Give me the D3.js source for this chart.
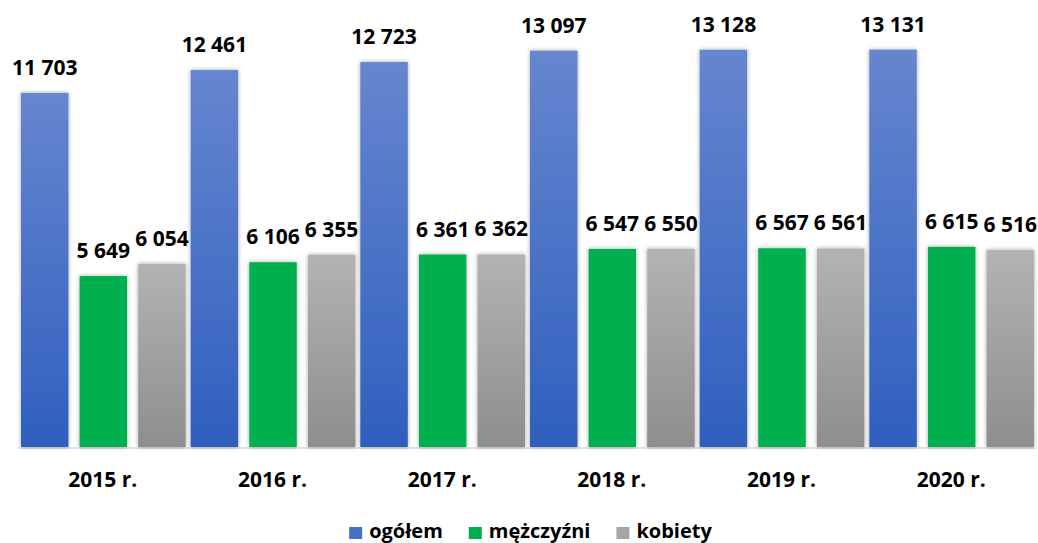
<!DOCTYPE html>
<html><head><meta charset="utf-8">
<script src="https://cdn.jsdelivr.net/npm/d3@7"></script>
<style>
html,body{margin:0;padding:0;background:#fff;}
svg{display:block;}
text{font-family:"Open Sans","Liberation Sans",sans-serif;font-weight:700;fill:#000;}
</style></head>
<body>
<svg id="chart" width="1038" height="543"></svg>
<script>
const years = ["2015 r.","2016 r.","2017 r.","2018 r.","2019 r.","2020 r."];
const seriesNames = ["ogółem","mężczyźni","kobiety"];
const ogolem = [11703,12461,12723,13097,13128,13131];
const mezczyzni = [5649,6106,6361,6547,6567,6615];
const kobiety = [6054,6355,6362,6550,6561,6516];

const seriesValues = [ogolem, mezczyzni, kobiety];
const colorsTop = ["#6686cf","#00b050","#b3b3b3"];
const colorsBot = ["#2f5fbe","#00b050","#8e8e8e"];
const legendColors = ["#4472c4","#00b050","#a5a5a5"];

const svg = d3.select("#chart");
const defs = svg.append("defs");
seriesNames.forEach((s,i)=>{
  const g = defs.append("linearGradient").attr("id","grad"+i)
    .attr("x1",0).attr("y1",0).attr("x2",0).attr("y2",1);
  g.append("stop").attr("offset","0%").attr("stop-color",colorsTop[i]);
  g.append("stop").attr("offset","100%").attr("stop-color",colorsBot[i]);
});
const f = defs.append("filter").attr("id","shadow")
  .attr("x","-30%").attr("y","-10%").attr("width","160%").attr("height","120%");
f.append("feDropShadow").attr("dx",0).attr("dy",0).attr("stdDeviation",2.2)
  .attr("flood-color","#000").attr("flood-opacity",0.35);

const left = 18, right = 1036, baseY = 447;
const x0 = d3.scaleBand().domain(years).range([left,right]).padding(0);
const bw = x0.bandwidth();
const x1 = d3.scaleBand().domain(d3.range(3)).range([3, bw-2]).paddingInner(0.19).paddingOuter(0);
const y = d3.scaleLinear().domain([0,14000]).range([baseY, baseY - 14000*0.03026]);

const fmt = v => { const s = String(v); return s.length>3 ? s.slice(0,s.length-3)+" "+s.slice(-3) : s; };

const data = [];
years.forEach((yr,ci)=>{
  seriesValues.forEach((arr,si)=>{ data.push({yr, si, v: arr[ci]}); });
});

// baseline
svg.append("line").attr("x1",left).attr("x2",right).attr("y1",baseY+1).attr("y2",baseY+1)
  .attr("stroke","#d9d9d9").attr("stroke-width",1.5);

svg.append("g").selectAll("rect").data(data).join("rect")
  .attr("x", d=>x0(d.yr)+x1(d.si))
  .attr("y", d=>y(d.v))
  .attr("width", x1.bandwidth())
  .attr("height", d=>baseY - y(d.v))
  .attr("fill", d=>"url(#grad"+d.si+")")
  .attr("filter","url(#shadow)");

svg.append("g").selectAll("text").data(data).join("text")
  .attr("x", d=>x0(d.yr)+x1(d.si)+x1.bandwidth()/2)
  .attr("y", d=>y(d.v)-18)
  .attr("text-anchor","middle")
  .attr("font-size",21)
  .text(d=>fmt(d.v));

// x axis labels
const xAxis = d3.axisBottom(x0).tickSize(0).tickPadding(0);
const ax = svg.append("g").attr("transform",`translate(0,${baseY})`).call(xAxis);
ax.select(".domain").remove();
ax.selectAll("text").attr("font-size",21).attr("dy",null).attr("y",40)
  .style("font-family",'"Open Sans","Liberation Sans",sans-serif').style("font-weight",700).attr("fill","#000");

// legend
const lg = svg.append("g");
let cx = 0;
seriesNames.forEach((n,i)=>{
  const g = lg.append("g");
  g.append("rect").attr("x",0).attr("y",-11).attr("width",13).attr("height",12).attr("fill",legendColors[i]);
  const t = g.append("text").attr("x",20).attr("y",0).attr("font-size",20).text(n);
  const w = 20 + t.node().getComputedTextLength();
  g.attr("transform",`translate(${cx},0)`);
  cx += w + 26;
});
const totalW = cx - 26;
lg.attr("transform",`translate(${530.5 - totalW/2},538)`);
</script>
</body></html>
